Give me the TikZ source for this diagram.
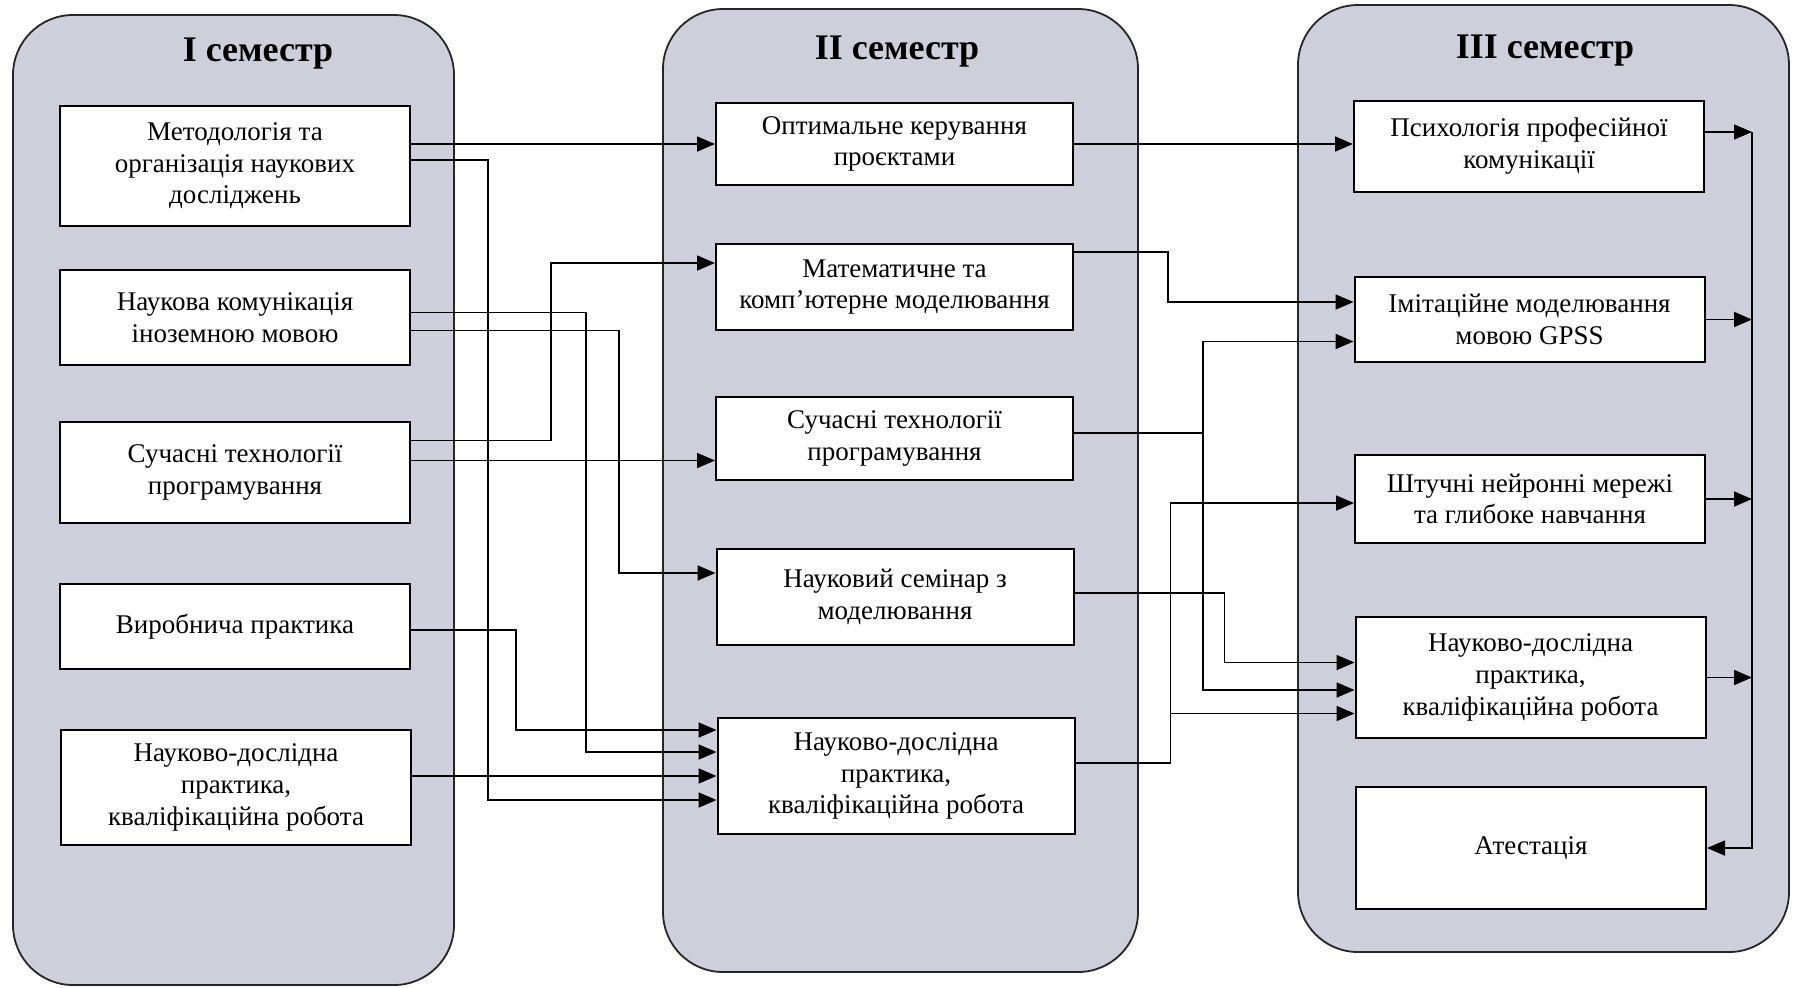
\documentclass[tikz,border=0pt]{standalone}
\usepackage{fontspec}
\setmainfont{Liberation Serif}
\usetikzlibrary{arrows.meta}
\definecolor{semfill}{RGB}{207,207,219}

\begin{document}
\begin{tikzpicture}[x=0.5pt, y=-0.5pt,
        semester/.style={draw=black!85, line width=0.9pt, fill=semfill, rounded corners=30pt, inner sep=0pt},
        title/.style={font=\fontsize{18}{20}\selectfont\bfseries},
        box/.style={draw, line width=1pt, fill=white, align=center, inner sep=2pt, font=\fontsize{13.5}{15.8}\selectfont},
        boxA/.style={box, minimum width=175pt},
        boxB/.style={box, minimum width=178.5pt},
        arr/.style={-{Triangle[length=9pt, width=7.5pt]}, line width=0.9pt}]
        \useasboundingbox (0,0) rectangle (1798,987);

        \node[semester, minimum width=220.5pt, minimum height=485pt] (sem1) at (233.5,500) {};
        \node[semester, minimum width=237.5pt, minimum height=481.5pt] (sem2) at (900.5,490.5) {};
        \node[semester, minimum width=245.5pt, minimum height=473.5pt] (sem3) at (1543.5,478.5) {};

        \node[title] (t1) at (258,54) {I семестр};
        \node[title] (t2) at (897,52) {II семестр};
        \node[title] (t3) at (1545,51) {III семестр};

        \node[boxA, minimum height=60pt] (b1) at (235,166) {Методологія та\\організація наукових\\досліджень};
        \node[boxA, minimum height=47.5pt] (b2) at (235,317.5) {Наукова комунікація\\іноземною мовою};
        \node[boxA, minimum height=50.5pt] (b3) at (235,472.5) {Сучасні технології\\програмування};
        \node[boxA, minimum height=42.5pt] (b4) at (235,626.5) {Виробнича практика};
        \node[boxA, minimum height=57.5pt] (b5) at (236,787.5) {Науково-дослідна\\практика,\\кваліфікаційна робота};

        \node[boxB, minimum height=41pt] (c1) at (894.5,144) {Оптимальне керування\\проєктами};
        \node[boxB, minimum height=43pt] (c2) at (894.5,287) {Математичне та\\комп'ютерне моделювання};
        \node[boxB, minimum height=41.5pt] (c3) at (894.5,438.5) {Сучасні технології\\програмування};
        \node[boxB, minimum height=48pt] (c4) at (895,597) {Науковий семінар з\\моделювання};
        \node[boxB, minimum height=58pt] (c5) at (896,776) {Науково-дослідна\\практика,\\кваліфікаційна робота};

        \node[boxA, minimum height=45.5pt] (d1) at (1529,146) {Психологія професійної\\комунікації};
        \node[boxA, minimum height=42.5pt] (d2) at (1529.5,319.5) {Імітаційне моделювання\\мовою GPSS};
        \node[boxA, minimum height=44pt] (d3) at (1530,499) {Штучні нейронні мережі\\та глибоке навчання};
        \node[boxA, minimum height=60.5pt] (d4) at (1530.5,677.5) {Науково-дослідна\\практика,\\кваліфікаційна робота};
        \node[boxA, minimum height=61pt] (d5) at (1531,848) {Атестація};

        \draw[arr] (b1.east |- c1.west) -- (c1.west);
        \draw[arr] ([yshift=3pt]b1.east) -- ++(77,0) |- ([yshift=-12pt]c5.west);
        \draw[arr] ([yshift=2.5pt]b2.east) -- ++(175,0) |- ([yshift=12pt]c5.west);
        \draw[arr] ([yshift=-6.5pt]b2.east) -- ++(208,0) |- ([yshift=12pt]c4.west);
        \draw[arr] ([yshift=16pt]b3.east) -- ++(140,0) |- ([yshift=12pt]c2.west);
        \draw[arr] ([yshift=6pt]b3.east) -- ([yshift=6pt]b3.east -| c3.west);
        \draw[arr] ([yshift=-1.75pt]b4.east) -- ++(105,0) |- ([yshift=23pt]c5.west);
        \draw[arr] (b5.east |- c5.west) -- (c5.west);

        \draw[arr] (c1.east) -- (c1.east -| d1.west);
        \draw[arr] ([yshift=17.5pt]c2.east) -- ++(94,0) |- ([yshift=8.75pt]d2.west);
        \draw[arr] ([yshift=2.75pt]c3.east) -- ++(129,0) |- ([yshift=-11pt]d2.west);
        \draw[arr] ([yshift=2.75pt]c3.east) ++(129,0) |- ([yshift=-6.25pt]d4.west);
        \draw[arr] ([yshift=2pt]c4.east) -- ++(150,0) |- ([yshift=7.5pt]d4.west);
        \draw[arr] ([yshift=6.5pt]c5.east) -- ++(95,0) |- ([yshift=-2pt]d3.west);
        \draw[arr] ([yshift=6.5pt]c5.east) ++(95,0) |- ([yshift=-18pt]d4.west);

        \coordinate (bus) at (1752,132);
        \draw[arr] (d1.east |- bus) -- (bus);
        \draw[arr] (d2.east) -- (d2.east -| bus);
        \draw[arr] (d3.east) -- (d3.east -| bus);
        \draw[arr] (d4.east) -- (d4.east -| bus);
        \draw[arr] (bus) -- (bus |- d5.east) -- (d5.east);
    \end{tikzpicture}
\end{document}
